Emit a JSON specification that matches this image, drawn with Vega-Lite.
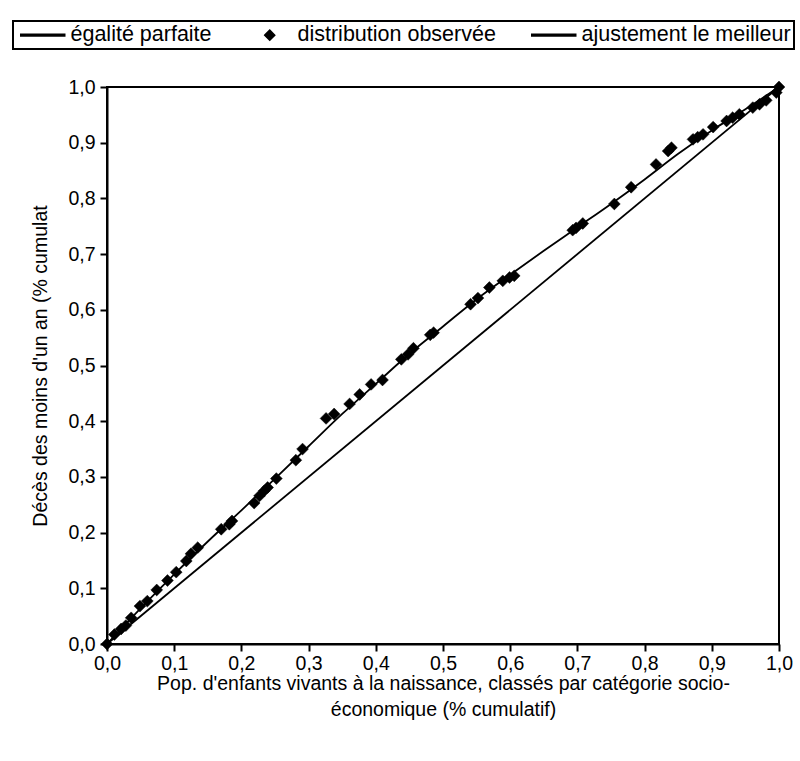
{
  "$schema": "https://vega.github.io/schema/vega-lite/v6.json",
  "width": 672,
  "height": 557,
  "padding": {"left": 12, "top": 20, "right": 5, "bottom": 5},
  "background": "white",
  "config": {
    "font": "Liberation Sans",
    "locale": {"number": {"decimal": ",", "thousands": " ", "grouping": [3], "currency": ["", " €"]}},
    "view": {"stroke": "black", "strokeWidth": 2},
    "axis": {
      "grid": false, "labelFlush": false,
      "domainColor": "black", "domainWidth": 2,
      "tickColor": "black", "tickWidth": 2, "tickSize": 7,
      "labelFont": "Liberation Sans", "labelFontSize": 19.5, "labelColor": "black",
      "titleFont": "Liberation Sans", "titleFontSize": 19.5, "titleFontWeight": "normal", "titleColor": "black"
    },
    "legend": {
      "labelFont": "Liberation Sans", "labelFontSize": 21.5, "labelColor": "black", "labelLimit": 400,
      "strokeColor": "black", "strokeWidth": 2, "fillColor": "white", "padding": 3
    }
  },
  "datasets": {
    "eq": [{"x": 0, "y": 0}, {"x": 1, "y": 1}],
    "fit": [
      {"x": 0, "y": 0}, {"x": 0.05, "y": 0.064}, {"x": 0.1, "y": 0.125}, {"x": 0.15, "y": 0.184},
      {"x": 0.2, "y": 0.24}, {"x": 0.25, "y": 0.297}, {"x": 0.3, "y": 0.355}, {"x": 0.35, "y": 0.413},
      {"x": 0.4, "y": 0.467}, {"x": 0.45, "y": 0.521}, {"x": 0.5, "y": 0.57}, {"x": 0.55, "y": 0.619},
      {"x": 0.6, "y": 0.663}, {"x": 0.65, "y": 0.706}, {"x": 0.7, "y": 0.748}, {"x": 0.75, "y": 0.79},
      {"x": 0.8, "y": 0.834}, {"x": 0.85, "y": 0.88}, {"x": 0.9, "y": 0.922}, {"x": 0.95, "y": 0.96},
      {"x": 1, "y": 1}
    ],
    "obs": [
      {"x": 0, "y": 0}, {"x": 0.011, "y": 0.017}, {"x": 0.021, "y": 0.027}, {"x": 0.028, "y": 0.033},
      {"x": 0.036, "y": 0.047}, {"x": 0.049, "y": 0.068}, {"x": 0.06, "y": 0.077}, {"x": 0.074, "y": 0.097},
      {"x": 0.09, "y": 0.114}, {"x": 0.103, "y": 0.129}, {"x": 0.118, "y": 0.149}, {"x": 0.125, "y": 0.162},
      {"x": 0.135, "y": 0.173}, {"x": 0.17, "y": 0.206}, {"x": 0.182, "y": 0.215}, {"x": 0.186, "y": 0.221},
      {"x": 0.219, "y": 0.253}, {"x": 0.227, "y": 0.266}, {"x": 0.234, "y": 0.275}, {"x": 0.239, "y": 0.281},
      {"x": 0.252, "y": 0.297}, {"x": 0.281, "y": 0.33}, {"x": 0.291, "y": 0.35}, {"x": 0.326, "y": 0.405},
      {"x": 0.338, "y": 0.413}, {"x": 0.361, "y": 0.431}, {"x": 0.376, "y": 0.448}, {"x": 0.393, "y": 0.466},
      {"x": 0.41, "y": 0.474}, {"x": 0.438, "y": 0.511}, {"x": 0.448, "y": 0.52}, {"x": 0.456, "y": 0.531},
      {"x": 0.481, "y": 0.555}, {"x": 0.486, "y": 0.559}, {"x": 0.541, "y": 0.61}, {"x": 0.552, "y": 0.621},
      {"x": 0.569, "y": 0.64}, {"x": 0.589, "y": 0.652}, {"x": 0.599, "y": 0.658}, {"x": 0.606, "y": 0.661},
      {"x": 0.693, "y": 0.743}, {"x": 0.698, "y": 0.747}, {"x": 0.708, "y": 0.755}, {"x": 0.755, "y": 0.79},
      {"x": 0.78, "y": 0.82}, {"x": 0.817, "y": 0.861}, {"x": 0.835, "y": 0.885}, {"x": 0.84, "y": 0.891},
      {"x": 0.872, "y": 0.906}, {"x": 0.879, "y": 0.91}, {"x": 0.887, "y": 0.915}, {"x": 0.902, "y": 0.928},
      {"x": 0.922, "y": 0.939}, {"x": 0.931, "y": 0.945}, {"x": 0.941, "y": 0.951}, {"x": 0.961, "y": 0.963},
      {"x": 0.971, "y": 0.969}, {"x": 0.981, "y": 0.976}, {"x": 0.996, "y": 0.99}, {"x": 1, "y": 1}
    ]
  },
  "encoding": {
    "x": {
      "field": "x", "type": "quantitative",
      "scale": {"domain": [0, 1], "nice": false, "zero": false},
      "axis": {
        "values": [0, 0.1, 0.2, 0.3, 0.4, 0.5, 0.6, 0.7, 0.8, 0.9, 1],
        "format": ".1f", "labelPadding": 3, "titlePadding": 2, "titleLineHeight": 26,
        "title": ["Pop. d'enfants vivants à la naissance, classés par catégorie socio-", "économique (% cumulatif)"]
      }
    },
    "y": {
      "field": "y", "type": "quantitative",
      "scale": {"domain": [0, 1], "nice": false, "zero": false},
      "axis": {
        "values": [0, 0.1, 0.2, 0.3, 0.4, 0.5, 0.6, 0.7, 0.8, 0.9, 1],
        "format": ".1f", "labelPadding": 5, "titlePadding": 17,
        "title": "Décès des moins d'un an (% cumulat"
      }
    }
  },
  "layer": [
    {
      "data": {"name": "eq"},
      "mark": {"type": "line", "color": "black", "strokeWidth": 1.8}
    },
    {
      "data": {"name": "fit"},
      "mark": {"type": "line", "color": "black", "strokeWidth": 1.8, "interpolate": "monotone"}
    },
    {
      "data": {"name": "obs"},
      "transform": [{"calculate": "'distribution observée'", "as": "serie"}],
      "mark": {"type": "point", "filled": true, "fill": "black", "stroke": "black", "strokeWidth": 0.5, "opacity": 1, "size": 140},
      "encoding": {
        "shape": {
          "field": "serie", "type": "nominal",
          "scale": {"domain": ["égalité parfaite", "distribution observée", "ajustement le meilleur"], "range": ["M-4.4,-0.18L4.4,-0.18L4.4,0.18L-4.4,0.18Z", "diamond", "M-4.4,-0.18L4.4,-0.18L4.4,0.18L-4.4,0.18Z"]},
          "legend": {
            "title": null, "orient": "none", "legendX": -94, "legendY": -66,
            "direction": "horizontal", "columns": 3, "columnPadding": 31,
            "symbolSize": 100, "symbolOffset": 16, "labelOffset": 17,
            "encode": {"symbols": {"update": {"fill": {"value": "black"}, "fillOpacity": {"value": 1}, "opacity": {"value": 1}, "strokeWidth": {"value": 0}}}}
          }
        }
      }
    }
  ]
}
